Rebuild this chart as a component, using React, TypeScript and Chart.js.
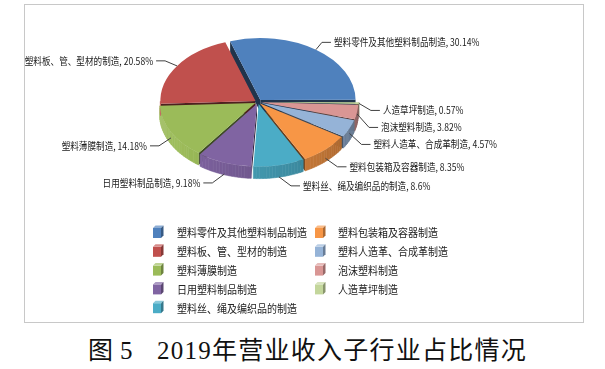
import React, { useEffect, useRef } from 'react';
import { Chart, registerables } from 'chart.js';

Chart.register(...registerables);

// ---- data ----
const categories = [
  '塑料零件及其他塑料制品制造',
  '塑料板、管、型材的制造',
  '塑料薄膜制造',
  '日用塑料制品制造',
  '塑料丝、绳及编织品的制造',
  '塑料包装箱及容器制造',
  '塑料人造革、合成革制造',
  '泡沫塑料制造',
  '人造草坪制造',
];
const shares = [30.14, 20.58, 14.18, 9.18, 8.6, 8.35, 4.57, 3.82, 0.57];
const colors = ['#4F81BD', '#C0504D', '#9BBB59', '#8064A2', '#4BACC6', '#F79646', '#95B3D7', '#D99694', '#C3D69B'];
const captionFigure = '图';
const captionNumber = '5';
const captionText = '2019年营业收入子行业占比情况';

// ---- layout / style ----
const W = 605;
const H = 330;
const CX = 258;
const CY = 102;
const R = 95;
const TILT = 0.65;
const DEPTH = 12;
const FONT = '"Noto Sans CJK SC", sans-serif';

// slices are drawn clockwise in the reverse of the legend order
const order = categories.map((_, i) => categories.length - 1 - i);
const offsetOf = (origIndex: number) => (origIndex === 0 ? 16 : 12);

function hexToRgb(hex: string) {
  const n = parseInt(hex.slice(1), 16);
  return [(n >> 16) & 255, (n >> 8) & 255, n & 255];
}
function shade(hex: string, f: number) {
  const [r, g, b] = hexToRgb(hex);
  let out;
  if (f <= 1) out = [r * f, g * f, b * f];
  else {
    const t = Math.min(1, f - 1);
    out = [r + (255 - r) * t, g + (255 - g) * t, b + (255 - b) * t];
  }
  return `rgb(${out.map((v) => Math.round(v)).join(',')})`;
}
const sideFactor = (a: number) => 0.62 + 0.5 * (a / Math.PI);

function geom(arc: any, offsetPx: number) {
  const p = arc.getProps(['x', 'y', 'startAngle', 'endAngle', 'outerRadius'], true);
  const circ = p.endAngle - p.startAngle;
  const off = offsetPx / 4;
  const h = (p.startAngle + p.endAngle) / 2;
  const fix = 1 - Math.sin(Math.min(Math.PI, circ));
  const ro = off * fix;
  const r = p.outerRadius + ro;
  const beta = Math.max(0.001, circ * r - ro / Math.PI) / r;
  const trim = (circ - beta) / 2;
  const cx = p.x + Math.cos(h) * off;
  const cy = p.y + Math.sin(h) * off * TILT;
  return {
    cx,
    cy,
    r,
    a0: p.startAngle + trim,
    a1: p.endAngle - trim,
    mid: h,
    pt: (a: number) => ({ x: cx + r * Math.cos(a), y: cy + r * TILT * Math.sin(a) }),
  };
}

function drawText(ctx: CanvasRenderingContext2D, text: string, x: number, y: number, align: CanvasTextAlign, size: number, sx: number, color: string) {
  ctx.save();
  ctx.translate(x, y);
  ctx.scale(sx, 1);
  ctx.font = `${size}px ${FONT}`;
  ctx.fillStyle = color;
  ctx.textAlign = align;
  ctx.textBaseline = 'middle';
  ctx.fillText(text, 0, 0);
  ctx.restore();
}

const pie3d = {
  id: 'pie3d',
  beforeDraw(chart: any) {
    const ctx = chart.ctx as CanvasRenderingContext2D;
    ctx.save();
    ctx.fillStyle = '#ffffff';
    ctx.fillRect(0, 0, W, H);
    ctx.strokeStyle = '#c8c8c8';
    ctx.lineWidth = 1;
    ctx.strokeRect(24.5, 4.5, 559, 318);
    ctx.restore();
  },
  beforeDatasetDraw(chart: any) {
    const ctx = chart.ctx as CanvasRenderingContext2D;
    const arcs = chart.getDatasetMeta(0).data;
    ctx.save();
    // radial walls
    arcs.forEach((arc: any, i: number) => {
      const orig = order[i];
      const g = geom(arc, offsetOf(orig));
      const wall = (a: number) => {
        const e = g.pt(a);
        ctx.beginPath();
        ctx.moveTo(g.cx, g.cy);
        ctx.lineTo(e.x, e.y);
        ctx.lineTo(e.x, e.y + DEPTH);
        ctx.lineTo(g.cx, g.cy + DEPTH);
        ctx.closePath();
        ctx.fillStyle = shade(colors[orig], 0.4);
        ctx.fill();
      };
      if (Math.cos(g.a0) < 0) wall(g.a0);
      if (Math.cos(g.a1) > 0) wall(g.a1);
    });
    // outer sides
    arcs.forEach((arc: any, i: number) => {
      const orig = order[i];
      const g = geom(arc, offsetOf(orig));
      const lo = Math.max(g.a0, 0);
      const hi = Math.min(g.a1, Math.PI);
      if (hi <= lo) return;
      const steps = Math.max(1, Math.ceil((hi - lo) / (Math.PI / 90)));
      for (let j = 0; j < steps; j++) {
        const t0 = lo + ((hi - lo) * j) / steps;
        const t1 = lo + ((hi - lo) * (j + 1)) / steps;
        const p0 = g.pt(t0);
        const p1 = g.pt(t1);
        const c = shade(colors[orig], sideFactor((t0 + t1) / 2));
        ctx.beginPath();
        ctx.moveTo(p0.x, p0.y);
        ctx.lineTo(p1.x, p1.y);
        ctx.lineTo(p1.x, p1.y + DEPTH);
        ctx.lineTo(p0.x, p0.y + DEPTH);
        ctx.closePath();
        ctx.fillStyle = c;
        ctx.strokeStyle = c;
        ctx.lineWidth = 0.6;
        ctx.fill();
        ctx.stroke();
      }
    });
    ctx.restore();
    // squash the top surface into an ellipse
    const { x, y } = arcs[0];
    ctx.save();
    ctx.translate(x, y);
    ctx.scale(1, TILT);
    ctx.translate(-x, -y);
  },
  afterDatasetDraw(chart: any) {
    chart.ctx.restore();
  },
  afterDraw(chart: any) {
    const ctx = chart.ctx as CanvasRenderingContext2D;
    const arcs = chart.getDatasetMeta(0).data;
    // data labels
    const items: any[] = [];
    arcs.forEach((arc: any, i: number) => {
      const orig = order[i];
      const g = geom(arc, offsetOf(orig));
      const c = Math.cos(g.mid);
      const s = Math.sin(g.mid);
      const e = g.pt(g.mid);
      const ax = e.x;
      const ay = e.y + (s > 0 ? DEPTH * s : 0);
      const side = c >= 0 ? 1 : -1;
      const lx = e.x + side * (s < -0.7 ? 18 : 24);
      const ly = e.y + (s > 0 ? 14 * s + 7 : 9 * s);
      items.push({ orig, ax, ay, lx, ly, side });
    });
    [1, -1].forEach((sd) => {
      const list = items.filter((it) => it.side === sd).sort((a, b) => a.ly - b.ly);
      for (let k = 1; k < list.length; k++) {
        if (list[k].ly < list[k - 1].ly + 17) list[k].ly = list[k - 1].ly + 17;
      }
    });
    ctx.save();
    ctx.strokeStyle = '#404040';
    ctx.lineWidth = 1;
    items.forEach((it) => {
      ctx.beginPath();
      ctx.moveTo(it.ax, it.ay);
      ctx.lineTo(it.lx - it.side * 12, it.ly);
      ctx.lineTo(it.lx - it.side * 3, it.ly);
      ctx.stroke();
      const text = `${categories[it.orig]}, ${shares[it.orig]}%`;
      drawText(ctx, text, it.lx, it.ly, it.side > 0 ? 'left' : 'right', 10, 0.86, '#1a1a1a');
    });
    ctx.restore();

    // legend (column-major, 5 rows)
    const rows = 5;
    const colIconX = [153, 315];
    const colTextX = [177, 338];
    const rowY0 = 233;
    const rowStep = 18.8;
    categories.forEach((name, i) => {
      const col = Math.floor(i / rows);
      const row = i % rows;
      const ix = colIconX[col];
      const cy = rowY0 + row * rowStep;
      const top = cy - 5;
      const col0 = colors[i];
      ctx.save();
      ctx.fillStyle = col0;
      ctx.fillRect(ix, top, 8, 10);
      ctx.beginPath();
      ctx.moveTo(ix, top);
      ctx.lineTo(ix + 2.5, top - 2.5);
      ctx.lineTo(ix + 10.5, top - 2.5);
      ctx.lineTo(ix + 8, top);
      ctx.closePath();
      ctx.fillStyle = shade(col0, 1.35);
      ctx.fill();
      ctx.beginPath();
      ctx.moveTo(ix + 8, top);
      ctx.lineTo(ix + 10.5, top - 2.5);
      ctx.lineTo(ix + 10.5, top + 7.5);
      ctx.lineTo(ix + 8, top + 10);
      ctx.closePath();
      ctx.fillStyle = shade(col0, 0.7);
      ctx.fill();
      ctx.restore();
      drawText(ctx, name, colTextX[col], cy, 'left', 11.5, 0.87, '#222');
    });
  },
};

export default function App() {
  const ref = useRef<HTMLCanvasElement | null>(null);
  useEffect(() => {
    if (!ref.current) return;
    const chart = new Chart(ref.current, {
      type: 'pie',
      data: {
        labels: order.map((i) => categories[i]),
        datasets: [
          {
            data: order.map((i) => shares[i]),
            backgroundColor: order.map((i) => colors[i]),
            borderWidth: 0,
            offset: order.map((i) => offsetOf(i)),
            radius: R,
            rotation: 90,
            clip: false,
          } as any,
        ],
      },
      options: {
        animation: false,
        responsive: false,
        devicePixelRatio: 1,
        events: [],
        radius: R,
        rotation: 90,
        layout: { padding: { left: 0, right: W - 2 * CX, top: 0, bottom: H - 2 * CY } },
        plugins: { legend: { display: false }, tooltip: { enabled: false } },
      } as any,
      plugins: [pie3d as any],
    });
    return () => chart.destroy();
  }, []);

  const capStyle: React.CSSProperties = {
    position: 'absolute',
    top: 338,
    fontFamily: '"Liberation Serif", "Noto Sans CJK SC", serif',
    fontSize: 25,
    lineHeight: '25px',
    letterSpacing: '1.25px',
    color: '#111',
    whiteSpace: 'pre',
  };

  return (
    <div style={{ position: 'fixed', left: 0, top: 0, width: W, height: 369, background: '#fff' }}>
      <canvas ref={ref} width={W} height={H} style={{ display: 'block', width: W, height: H }} />
      <span style={{ ...capStyle, left: 88 }}>{captionFigure}</span>
      <span style={{ ...capStyle, left: 120 }}>{captionNumber}</span>
      <span style={{ ...capStyle, left: 157 }}>{captionText}</span>
    </div>
  );
}
